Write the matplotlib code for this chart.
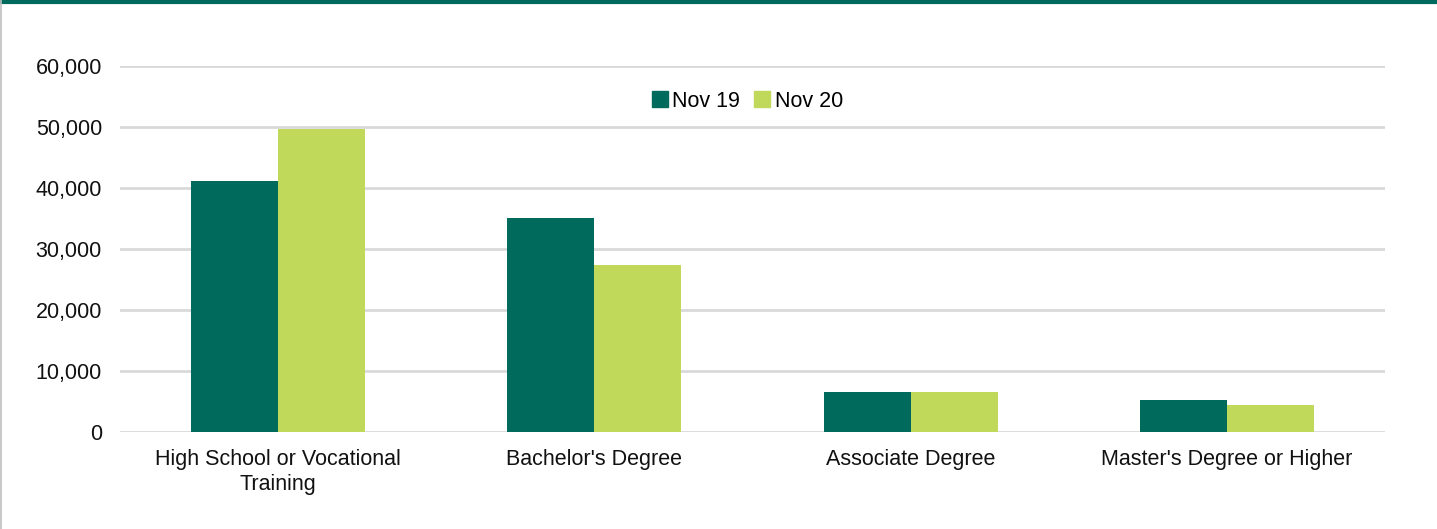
import numpy as np
import matplotlib
matplotlib.use("Agg")
import matplotlib.pyplot as plt
from matplotlib.lines import Line2D

plt.rcParams['font.family'] = ['Liberation Sans', 'DejaVu Sans']

categories = ["High School or Vocational\nTraining", "Bachelor's Degree",
              "Associate Degree", "Master's Degree or Higher"]
nov19 = [41200, 35100, 6550, 5250]
nov20 = [49700, 27400, 6600, 4400]
series_names = ["Nov 19", "Nov 20"]
colors = ["#006B5C", "#C0D95A"]

fig = plt.figure(figsize=(14.37, 5.29), dpi=100)
ax = fig.add_axes([120 / 1437, 1 - 432 / 529, 1265 / 1437, 366 / 529])

x = np.arange(len(categories))
w = 0.275
ax.bar(x - w / 2, nov19, w, color=colors[0], zorder=3)
ax.bar(x + w / 2, nov20, w, color=colors[1], zorder=3)

ax.set_xlim(-0.5, len(categories) - 0.5)
ax.set_ylim(0, 60000)
ax.set_yticks(np.arange(0, 60001, 10000))
ax.yaxis.set_major_formatter(matplotlib.ticker.FuncFormatter(lambda v, p: f"{int(v):,}"))
ax.set_xticks(x)
ax.set_xticklabels(categories, fontsize=15.5, color="#111111", linespacing=1.25)
ax.tick_params(axis='y', labelsize=15.5, labelcolor="#111111", length=0, pad=13)
ax.tick_params(axis='x', length=0, pad=12)
ax.grid(axis='y', color="#d9d9d9", linewidth=2, zorder=0)
for s in ax.spines.values():
    s.set_visible(False)

handles = [Line2D([], [], marker='s', linestyle='none', markersize=11,
                  markerfacecolor=c, markeredgecolor=c) for c in colors]
ax.legend(handles, series_names, loc='center', bbox_to_anchor=((747 - 120) / 1265, (432 - 101) / 366),
          ncol=2, frameon=False, fontsize=15.5, handletextpad=0.2, columnspacing=0.6,
          handlelength=0.8)

# outer frame: green top stripe and grey left edge
fig.add_artist(Line2D([0, 1], [1 - 1.5 / 529, 1 - 1.5 / 529], transform=fig.transFigure,
                      color="#006B5C", linewidth=3))
fig.add_artist(Line2D([0.7 / 1437, 0.7 / 1437], [0, 1], transform=fig.transFigure,
                      color="#bfbfbf", linewidth=1.2))

fig.savefig("out.png", dpi=100)
